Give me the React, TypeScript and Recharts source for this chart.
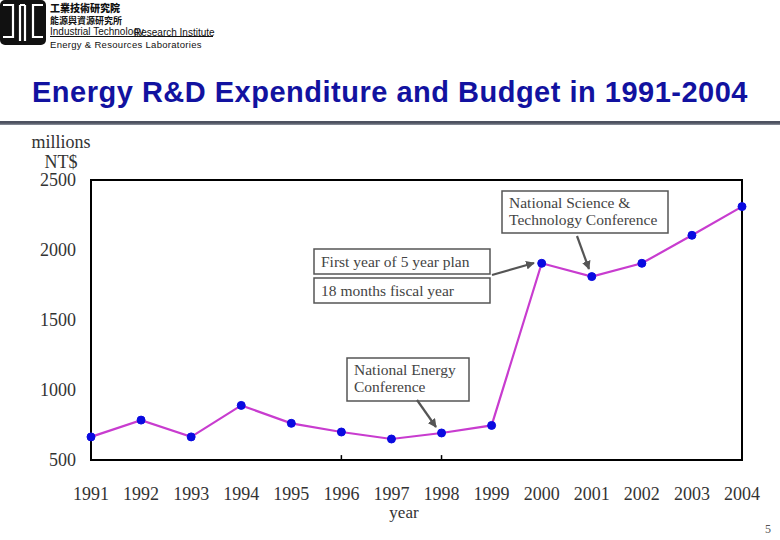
import React from "react";
import {
  LineChart,
  Line,
  XAxis,
  YAxis,
  ReferenceArea,
  ReferenceLine,
} from "recharts";

// years on the x axis
const YEARS = [
  1991, 1992, 1993, 1994, 1995, 1996, 1997, 1998, 1999, 2000, 2001, 2002,
  2003, 2004,
];

// millions NT$
const EXPENDITURE = [
  665, 785, 665, 890, 762, 700, 650, 693, 747, 1905, 1810, 1905, 2105, 2310,
];

const Y_TICKS = [500, 1000, 1500, 2000, 2500];

// small tick marks drawn on the bottom border
const MARKED_YEARS = [1996, 1998];

const data = YEARS.map((year, i) => ({ year, value: EXPENDITURE[i] }));

const SERIF = "'Liberation Serif', 'Times New Roman', serif";
const SANS = "'Liberation Sans', Arial, sans-serif";
const TEXT = "#333";

function Logo() {
  return (
    <svg width={48} height={47} style={{ position: "absolute", left: 0, top: 0 }}>
      <rect x={0} y={0} width={46} height={45} rx={5} fill="#111" />
      <g fill="none" stroke="#fff" strokeWidth={2.2}>
        <path d="M3 5 H13 V37 H3" />
        <path d="M20 5 V41 M25 5 V41 M20 5 H25" />
        <path d="M43 5 H33 V37 H43" />
      </g>
    </svg>
  );
}

function Header() {
  return (
    <>
      <Logo />
      <div
        style={{
          position: "absolute",
          left: 50,
          top: 2,
          fontFamily: "'Noto Sans CJK TC', sans-serif",
          fontWeight: 900,
          fontSize: 10,
          lineHeight: "11px",
          color: "#111",
        }}
      >
        工業技術研究院
      </div>
      <div
        style={{
          position: "absolute",
          left: 50,
          top: 16,
          fontFamily: "'Noto Sans CJK TC', sans-serif",
          fontWeight: 700,
          fontSize: 9,
          lineHeight: "10px",
          color: "#111",
        }}
      >
        能源與資源研究所
      </div>
      <div
        style={{
          position: "absolute",
          left: 50,
          top: 26,
          width: 163,
          height: 10,
          borderBottom: "1.5px solid #111",
          fontFamily: SANS,
          fontSize: 10,
          lineHeight: "11px",
          color: "#111",
          whiteSpace: "nowrap",
        }}
      >
        Industrial Technology
        <span style={{ position: "absolute", left: 84, top: 1 }}>
          Research Institute
        </span>
      </div>
      <div
        style={{
          position: "absolute",
          left: 50,
          top: 39,
          fontFamily: SANS,
          fontSize: 9.5,
          lineHeight: "11px",
          color: "#111",
          letterSpacing: 0.3,
          whiteSpace: "nowrap",
        }}
      >
        Energy &amp; Resources Laboratories
      </div>
      <div
        style={{
          position: "absolute",
          left: 0,
          width: 780,
          top: 75,
          textAlign: "center",
          fontFamily: SANS,
          fontWeight: 700,
          fontSize: 29,
          lineHeight: "34px",
          letterSpacing: 0.5,
          color: "#1212a0",
          whiteSpace: "nowrap",
        }}
      >
        Energy R&amp;D Expenditure and Budget in 1991-2004
      </div>
      <div
        style={{
          position: "absolute",
          left: 0,
          top: 121,
          width: 780,
          height: 4,
          background: "linear-gradient(#4d5260, #4d5260 50%, #9095a0)",
        }}
      />
    </>
  );
}

type Note = { x: number; y: number; w: number; h: number; lines: string[] };

const NOTES: Note[] = [
  { x: 502, y: 191, w: 166, h: 42, lines: ["National Science &", "Technology Conference"] },
  { x: 314, y: 249, w: 176, h: 25, lines: ["First year of 5 year plan"] },
  { x: 314, y: 278, w: 176, h: 25, lines: ["18 months fiscal year"] },
  { x: 347, y: 358, w: 122, h: 43, lines: ["National Energy", "Conference"] },
];

const ARROWS = [
  [577, 236, 589, 269],
  [492, 275, 534, 263],
  [417, 400, 436, 427],
];

function Annotations() {
  return (
    <svg
      width={780}
      height={540}
      style={{ position: "absolute", left: 0, top: 0, pointerEvents: "none" }}
    >
      <defs>
        <marker
          id="head"
          viewBox="0 0 10 10"
          refX={9}
          refY={5}
          markerWidth={4}
          markerHeight={4}
          orient="auto"
        >
          <path d="M0 0 L10 5 L0 10 z" fill="#555" />
        </marker>
      </defs>
      {NOTES.map((n, i) => (
        <g key={i}>
          <rect
            x={n.x}
            y={n.y}
            width={n.w}
            height={n.h}
            fill="#fff"
            stroke="#555"
            strokeWidth={1.5}
          />
          {n.lines.map((t, j) => (
            <text
              key={j}
              x={n.x + 7}
              y={n.y + (n.lines.length === 1 ? 18 : 17 + j * 17)}
              fontFamily={SERIF}
              fontSize={15.5}
              fill="#444"
            >
              {t}
            </text>
          ))}
        </g>
      ))}
      {ARROWS.map(([x1, y1, x2, y2], i) => (
        <line
          key={i}
          x1={x1}
          y1={y1}
          x2={x2}
          y2={y2}
          stroke="#555"
          strokeWidth={2.2}
          markerEnd="url(#head)"
        />
      ))}
    </svg>
  );
}

export default function App() {
  return (
    <div
      style={{
        position: "absolute",
        left: 0,
        top: 0,
        width: 780,
        height: 540,
        background: "#fff",
        overflow: "hidden",
      }}
    >
      <Header />
      <div
        style={{
          position: "absolute",
          left: 20,
          width: 82,
          top: 132,
          textAlign: "center",
          fontFamily: SERIF,
          fontSize: 18,
          lineHeight: "20px",
          color: TEXT,
        }}
      >
        millions
        <br />
        NT$
      </div>
      <div style={{ position: "absolute", left: 0, top: 0 }}>
        <LineChart
          width={780}
          height={540}
          data={data}
          margin={{ top: 180, right: 38, bottom: 50, left: 31 }}
        >
          <XAxis
            dataKey="year"
            type="number"
            domain={[1991, 2004]}
            ticks={YEARS}
            interval={0}
            height={30}
            axisLine={false}
            tickLine={false}
            tickSize={0}
            tickMargin={27}
            tick={{ fontFamily: SERIF, fontSize: 18, fill: TEXT }}
          />
          <YAxis
            type="number"
            domain={[500, 2500]}
            ticks={Y_TICKS}
            width={60}
            axisLine={false}
            tickLine={false}
            tickSize={0}
            tickMargin={15}
            tick={{ fontFamily: SERIF, fontSize: 18, fill: TEXT }}
          />
          <ReferenceArea
            x1={1991}
            x2={2004}
            y1={500}
            y2={2500}
            fill="none"
            stroke="#000"
            strokeWidth={2}
            ifOverflow="visible"
          />
          {MARKED_YEARS.map((yr) => (
            <ReferenceLine
              key={yr}
              segment={[
                { x: yr, y: 500 },
                { x: yr, y: 535 },
              ]}
              stroke="#000"
              strokeWidth={1.5}
            />
          ))}
          <Line
            type="linear"
            dataKey="value"
            stroke="#c83ccf"
            strokeWidth={2.2}
            dot={{ r: 4, fill: "#0a0ae0", stroke: "#0a0ae0", strokeWidth: 1 }}
            isAnimationActive={false}
          />
        </LineChart>
      </div>
      <Annotations />
      <div
        style={{
          position: "absolute",
          left: 384,
          width: 40,
          top: 503,
          textAlign: "center",
          fontFamily: SERIF,
          fontSize: 17,
          lineHeight: "20px",
          color: TEXT,
        }}
      >
        year
      </div>
      <div
        style={{
          position: "absolute",
          left: 765,
          top: 522,
          fontFamily: SERIF,
          fontSize: 12,
          color: "#555",
        }}
      >
        5
      </div>
    </div>
  );
}
